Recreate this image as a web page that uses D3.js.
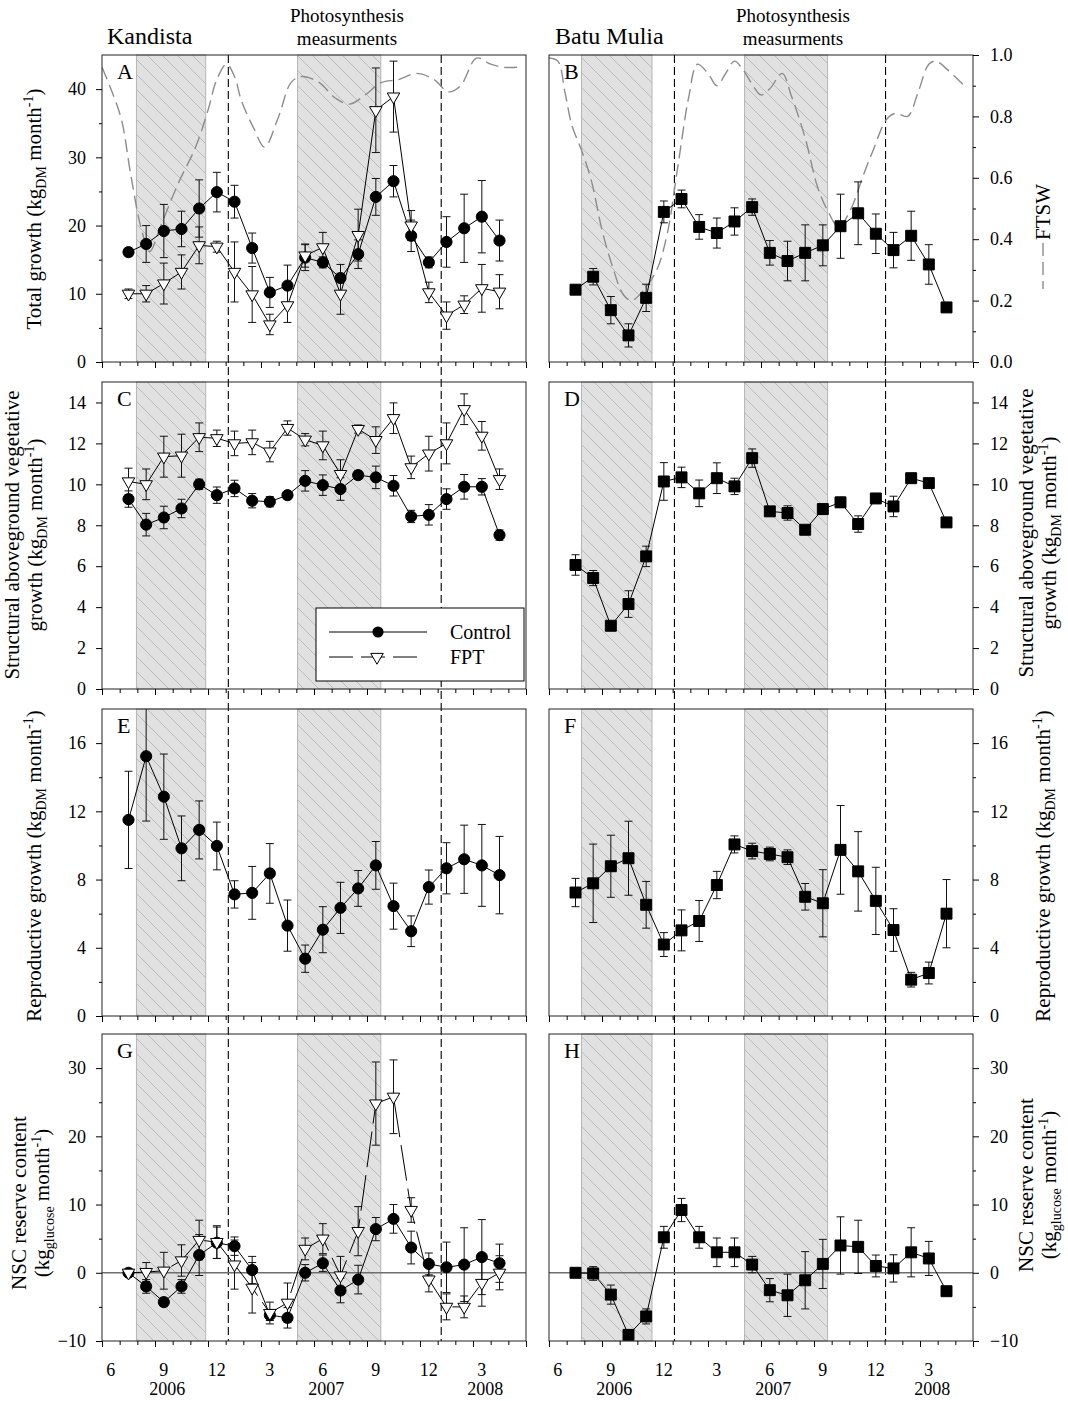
<!DOCTYPE html>
<html>
<head>
<meta charset="utf-8">
<script src="https://cdn.jsdelivr.net/npm/d3@7"></script>
<style>
  body { margin: 0; background: #fff; }
  text { font-family: "Liberation Serif", "Times New Roman", serif; fill: #000; }
</style>
</head>
<body>
<div id="chart"></div>
<script>
// Data
var sampleMonths = ["2006-07","2006-08","2006-09","2006-10","2006-11","2006-12",
    "2007-01","2007-02","2007-03","2007-04","2007-05","2007-06","2007-07","2007-08",
    "2007-09","2007-10","2007-11","2007-12","2008-01","2008-02","2008-03","2008-04"];

var monthTickLabels = ["6","9","12","3","6","9","12","3"];
var yearLabels = ["2006","2007","2008"];

// Kandista (Control / FPT)
var ctrlTotal    = [16.1, 17.3, 19.2, 19.5, 22.5, 24.9, 23.5, 16.7, 10.2, 11.2, 15.3, 14.6, 12.3, 15.8, 24.2, 26.5, 18.5, 14.6, 17.6, 19.6, 21.3, 17.8];
var ctrlTotalErr = [0.6, 2.7, 3.9, 2.6, 4.2, 2.9, 2.4, 2.2, 2.2, 3.0, 1.9, 0.8, 2.0, 2.1, 2.7, 2.3, 2.3, 0.8, 3.7, 5.0, 5.3, 3.0];
var fptTotal     = [10.0, 10.0, 11.5, 13.2, 17.1, 16.9, 13.2, 9.9, 5.5, 8.3, 15.6, 16.8, 10.0, 18.6, 36.9, 38.9, 20.0, 10.2, 6.8, 8.4, 10.8, 10.3];
var fptTotalErr  = [0.7, 1.2, 3.0, 2.5, 2.7, 0.8, 4.4, 4.1, 1.5, 2.5, 1.7, 2.2, 3.0, 3.8, 6.2, 5.2, 2.2, 1.5, 2.0, 1.3, 3.5, 2.5];

var ctrlStruct    = [9.28, 8.03, 8.38, 8.82, 10.0, 9.47, 9.8, 9.2, 9.15, 9.47, 10.17, 9.96, 9.77, 10.45, 10.34, 9.93, 8.43, 8.51, 9.28, 9.88, 9.88, 7.52];
var ctrlStructErr = [0.4, 0.55, 0.55, 0.45, 0.25, 0.4, 0.4, 0.35, 0.25, 0.1, 0.5, 0.5, 0.55, 0.2, 0.55, 0.5, 0.3, 0.5, 0.5, 0.6, 0.4, 0.25];
var fptStruct     = [10.14, 10.0, 11.35, 11.4, 12.3, 12.25, 12.0, 12.05, 11.6, 12.75, 12.18, 11.9, 10.5, 12.7, 12.16, 13.23, 10.83, 11.5, 12.0, 13.67, 12.37, 10.25];
var fptStructErr  = [0.65, 0.75, 1.0, 1.05, 0.7, 0.4, 0.6, 0.6, 0.5, 0.35, 0.3, 0.7, 0.7, 0.2, 0.65, 0.75, 0.55, 0.85, 1.0, 0.75, 0.7, 0.5];

var ctrlRepro    = [11.5, 15.23, 12.86, 9.83, 10.91, 9.97, 7.13, 7.22, 8.36, 5.3, 3.36, 5.06, 6.34, 7.48, 8.83, 6.44, 4.97, 7.56, 8.66, 9.19, 8.83, 8.26];
var ctrlReproErr = [2.85, 3.8, 2.5, 1.9, 1.7, 1.4, 0.8, 1.55, 1.75, 1.5, 0.8, 1.35, 1.5, 1.05, 1.4, 1.35, 0.9, 1.0, 1.5, 2.0, 2.4, 2.27];

var ctrlNsc    = [0, -2.0, -4.3, -2.0, 2.6, 4.4, 3.9, 0.4, -6.2, -6.6, 0, 1.4, -2.6, -1.0, 6.4, 7.9, 3.7, 1.3, 0.8, 1.2, 2.3, 1.4];
var ctrlNscErr = [0, 1.0, 0.6, 1.0, 3.0, 2.3, 1.35, 2.0, 0.8, 1.5, 1.2, 1.2, 1.8, 2.1, 1.7, 2.1, 2.4, 1.6, 3.7, 5.4, 5.5, 2.8];
var fptNsc     = [0, 0.1, 0.3, 1.8, 4.8, 4.5, 1.2, -2.2, -5.9, -4.4, 3.5, 5.0, -0.4, 6.1, 24.8, 25.8, 9.2, -1.0, -5.0, -5.0, -1.5, 0];
var fptNscErr  = [0, 1.4, 2.7, 2.3, 2.9, 2.4, 3.6, 3.7, 1.6, 2.9, 1.6, 2.2, 2.8, 3.6, 6.1, 5.4, 1.8, 1.8, 1.9, 1.6, 3.4, 2.5];

// Batu Mulia
var bmTotal     = [10.6, 12.5, 7.6, 3.9, 9.4, 22.0, 23.9, 19.8, 18.9, 20.6, 22.7, 16.0, 14.8, 16.0, 17.1, 19.9, 21.8, 18.8, 16.4, 18.5, 14.3, 8.0];
var bmTotalErr  = [0, 1.2, 2.0, 1.7, 2.0, 1.6, 1.3, 1.8, 2.2, 2.0, 1.2, 1.8, 2.9, 4.1, 3.0, 4.7, 4.6, 2.9, 2.6, 3.6, 2.9, 0];
var bmStruct    = [6.06, 5.42, 3.09, 4.15, 6.48, 10.14, 10.34, 9.56, 10.3, 9.9, 11.28, 8.68, 8.6, 7.78, 8.79, 9.12, 8.06, 9.31, 8.92, 10.3, 10.06, 8.14];
var bmStructErr = [0.5, 0.37, 0, 0.65, 0.5, 0.92, 0.5, 0.65, 0.75, 0.4, 0.45, 0, 0.35, 0, 0.25, 0.25, 0.4, 0, 0.5, 0, 0, 0.2];
var bmRepro     = [7.24, 7.78, 8.78, 9.25, 6.52, 4.19, 5.02, 5.57, 7.68, 10.06, 9.67, 9.5, 9.31, 6.99, 6.61, 9.74, 8.48, 6.75, 5.04, 2.13, 2.52, 6.0];
var bmReproErr  = [0.83, 2.3, 1.82, 2.17, 1.37, 0.7, 1.2, 1.2, 0.8, 0.5, 0.46, 0.4, 0.43, 0.78, 1.97, 2.6, 2.33, 1.97, 1.25, 0.43, 0.64, 2.0];
var bmNsc       = [0, -0.1, -3.2, -9.1, -6.4, 5.2, 9.2, 5.2, 3.0, 3.0, 1.2, -2.55, -3.3, -1.1, 1.3, 4.0, 3.8, 1.0, 0.64, 3.0, 2.1, -2.7];
var bmNscErr    = [0, 1.0, 1.4, 0.7, 1.1, 1.6, 1.7, 1.6, 2.1, 2.1, 1.2, 1.7, 3.1, 4.2, 3.6, 4.2, 3.9, 1.6, 2.0, 3.6, 2.5, 0];

// FTSW (months since 1 June 2006)
var ftswKandistaMonth = [0, 0.5, 1.1, 1.6, 2.2, 2.7, 3.3, 4.3, 5.3, 6.0, 6.5, 7.05, 7.5, 7.9, 8.6, 9.2, 10.0, 10.7, 11.3, 12.3, 13.2, 14.0, 14.9, 15.8, 16.8, 17.8, 18.8, 19.6, 20.3, 21.2, 22.0, 22.7, 23.5];
var ftswKandista      = [0.96, 0.89, 0.79, 0.62, 0.44, 0.36, 0.44, 0.58, 0.70, 0.82, 0.92, 0.97, 0.93, 0.85, 0.76, 0.70, 0.80, 0.91, 0.93, 0.91, 0.86, 0.84, 0.87, 0.91, 0.92, 0.94, 0.92, 0.88, 0.90, 0.99, 0.97, 0.96, 0.96];
var ftswBatuMonth = [0, 0.5, 0.9, 1.3, 1.84, 2.4, 3.0, 3.6, 4.2, 4.66, 5.3, 6.1, 6.7, 7.3, 7.9, 8.4, 9.0, 9.5, 10.0, 10.5, 11.0, 11.55, 12.0, 12.5, 13.2, 13.7, 14.5, 15.2, 15.8, 16.4, 17.1, 17.8, 18.35, 19.1, 19.6, 20.3, 20.9, 21.5, 21.9, 22.6, 23.5];
var ftswBatu      = [0.99, 0.98, 0.88, 0.77, 0.69, 0.59, 0.43, 0.31, 0.22, 0.20, 0.23, 0.30, 0.42, 0.64, 0.86, 0.97, 0.94, 0.90, 0.94, 0.98, 0.95, 0.90, 0.87, 0.89, 0.94, 0.87, 0.73, 0.57, 0.49, 0.44, 0.50, 0.61, 0.69, 0.79, 0.81, 0.80, 0.88, 0.97, 0.98, 0.95, 0.90];

// dry seasons and photosynthesis campaigns (months since 1 June 2006)
var dryKandista = [[1.95, 5.87], [11.07, 15.78]];
var dryBatu     = [[1.84, 5.83], [11.07, 15.77]];
var photoKandista = [7.15, 19.2];
var photoBatu     = [7.1, 19.05];

// Layout
var svgWidth = 1068, svgHeight = 1401;
var colX = [102, 549];
var rowY = [55, 382, 709, 1034];
var panelW = 424, panelH = 307;

function monthIndex(s) {
    var p = s.split("-");
    return (+p[0] - 2006) * 12 + (+p[1] - 6) + 0.5;
}
var sampleX = sampleMonths.map(monthIndex);

function toPoints(v, e) {
    return v.map(function(d, i) { return {m: sampleX[i], v: d, e: e[i]}; });
}

var panels = [
    {col:0, row:0, letter:"A", domain:[0,45], major:[0,10,20,30,40], minor:[5,15,25,35],
     series:[{pts:toPoints(ctrlTotal, ctrlTotalErr), mark:"circle"},
             {pts:toPoints(fptTotal, fptTotalErr), mark:"tri"}],
     ftsw:{m:ftswKandistaMonth, v:ftswKandista}},
    {col:1, row:0, letter:"B", domain:[0,45], ftswAxis:true,
     series:[{pts:toPoints(bmTotal, bmTotalErr), mark:"square"}],
     ftsw:{m:ftswBatuMonth, v:ftswBatu}},
    {col:0, row:1, letter:"C", domain:[0,15], major:[0,2,4,6,8,10,12,14], minor:[],
     series:[{pts:toPoints(ctrlStruct, ctrlStructErr), mark:"circle"},
             {pts:toPoints(fptStruct, fptStructErr), mark:"tri"}], legend:true},
    {col:1, row:1, letter:"D", domain:[0,15], major:[0,2,4,6,8,10,12,14], minor:[],
     series:[{pts:toPoints(bmStruct, bmStructErr), mark:"square"}]},
    {col:0, row:2, letter:"E", domain:[0,18], major:[0,4,8,12,16], minor:[2,6,10,14],
     series:[{pts:toPoints(ctrlRepro, ctrlReproErr), mark:"circle"}]},
    {col:1, row:2, letter:"F", domain:[0,18], major:[0,4,8,12,16], minor:[2,6,10,14],
     series:[{pts:toPoints(bmRepro, bmReproErr), mark:"square"}]},
    {col:0, row:3, letter:"G", domain:[-10,35], major:[-10,0,10,20,30], minor:[-5,5,15,25], zero:true, xLabels:true,
     series:[{pts:toPoints(ctrlNsc, ctrlNscErr), mark:"circle"},
             {pts:toPoints(fptNsc, fptNscErr), mark:"tri", dash:"36,8"}]},
    {col:1, row:3, letter:"H", domain:[-10,35], major:[-10,0,10,20,30], minor:[-5,5,15,25], zero:true, xLabels:true,
     series:[{pts:toPoints(bmNsc, bmNscErr), mark:"square"}]}
];

var svg = d3.select("#chart").append("svg")
    .attr("width", svgWidth)
    .attr("height", svgHeight);

var defs = svg.append("defs");
var hatch = defs.append("pattern")
    .attr("id", "hatch")
    .attr("patternUnits", "userSpaceOnUse")
    .attr("width", 15).attr("height", 15);
hatch.append("rect").attr("width", 15).attr("height", 15).attr("fill", "#e1e1e1");
hatch.append("path")
    .attr("d", "M0,0L15,15M-1,14L1,16M14,-1L16,1")
    .attr("stroke", "#a9a9a9").attr("stroke-width", 0.7);

var backLayer  = svg.append("g");
var lineLayer  = svg.append("g");
var frontLayer = svg.append("g");

var xScale = d3.scaleLinear().domain([0, 24]).range([0, panelW]);

// long dashed lines marking photosynthesis campaigns
[photoKandista, photoBatu].forEach(function(arr, c) {
    arr.forEach(function(m) {
        lineLayer.append("line")
            .attr("x1", colX[c] + xScale(m)).attr("x2", colX[c] + xScale(m))
            .attr("y1", rowY[0]).attr("y2", rowY[3] + panelH)
            .attr("stroke", "#000").attr("stroke-width", 1.1)
            .attr("stroke-dasharray", "8,4");
    });
});

function symbolPath(mark) {
    if (mark == "circle") return d3.symbol().type(d3.symbolCircle).size(98)();
    if (mark == "square") return d3.symbol().type(d3.symbolSquare).size(120)();
    return d3.symbol().type(d3.symbolTriangle).size(68)();
}

function styleAxis(g) {
    g.select(".domain").remove();
    g.selectAll("line").attr("stroke", "#000");
    g.selectAll("text").style("font-family", "'Liberation Serif', serif").style("font-size", "18px").attr("fill", "#000");
}

panels.forEach(function(p, pi) {
    var ox = colX[p.col], oy = rowY[p.row];
    var y = d3.scaleLinear().domain(p.domain).range([panelH, 0]);
    var yf = d3.scaleLinear().domain([0, 1]).range([panelH, 0]);
    var dry = p.col == 0 ? dryKandista : dryBatu;

    var back = backLayer.append("g").attr("transform", "translate(" + ox + "," + oy + ")");
    back.selectAll(".dry").data(dry).enter().append("rect")
        .attr("x", function(d) { return xScale(d[0]); })
        .attr("width", function(d) { return xScale(d[1]) - xScale(d[0]); })
        .attr("y", 0).attr("height", panelH)
        .attr("fill", "url(#hatch)")
        .attr("stroke", "#b5b5b5").attr("stroke-width", 1);

    var g = frontLayer.append("g").attr("transform", "translate(" + ox + "," + oy + ")");

    var clipId = "clip" + pi;
    defs.append("clipPath").attr("id", clipId)
        .append("rect").attr("width", panelW).attr("height", panelH);
    var plot = g.append("g").attr("clip-path", "url(#" + clipId + ")");

    if (p.zero) {
        plot.append("line")
            .attr("x1", 0).attr("x2", panelW)
            .attr("y1", y(0)).attr("y2", y(0))
            .attr("stroke", "#6e6e6e").attr("stroke-width", 1.6);
    }

    if (p.ftsw) {
        var fdata = p.ftsw.m.map(function(m, i) { return [m, p.ftsw.v[i]]; });
        plot.append("path")
            .attr("d", d3.line()
                .x(function(d) { return xScale(d[0]); })
                .y(function(d) { return yf(d[1]); })
                .curve(d3.curveCatmullRom.alpha(0.5))(fdata))
            .attr("fill", "none")
            .attr("stroke", "#8c8c8c")
            .attr("stroke-width", 1.4)
            .attr("stroke-dasharray", "13,6");
    }

    // error bars
    p.series.forEach(function(s) {
        var eb = plot.append("g").attr("stroke", "#111").attr("stroke-width", 1);
        s.pts.filter(function(d) { return d.e > 0; }).forEach(function(d) {
            var cx = xScale(d.m);
            eb.append("line").attr("x1", cx).attr("x2", cx)
                .attr("y1", y(d.v + d.e)).attr("y2", y(d.v - d.e));
            eb.append("line").attr("x1", cx - 4).attr("x2", cx + 4)
                .attr("y1", y(d.v + d.e)).attr("y2", y(d.v + d.e));
            eb.append("line").attr("x1", cx - 4).attr("x2", cx + 4)
                .attr("y1", y(d.v - d.e)).attr("y2", y(d.v - d.e));
        });
    });

    // lines
    p.series.forEach(function(s) {
        plot.append("path")
            .attr("d", d3.line()
                .x(function(d) { return xScale(d.m); })
                .y(function(d) { return y(d.v); })(s.pts))
            .attr("fill", "none")
            .attr("stroke", "#000")
            .attr("stroke-width", 1)
            .attr("stroke-dasharray", s.dash || null);
    });

    // markers
    p.series.forEach(function(s) {
        plot.selectAll(null).data(s.pts).enter().append("path")
            .attr("d", symbolPath(s.mark))
            .attr("transform", function(d) {
                return "translate(" + xScale(d.m) + "," + y(d.v) + ")" + (s.mark == "tri" ? " rotate(180)" : "");
            })
            .attr("fill", s.mark == "tri" ? "#fff" : "#000")
            .attr("stroke", "#000")
            .attr("stroke-width", 1);
    });

    // frame
    g.append("rect").attr("width", panelW).attr("height", panelH)
        .attr("fill", "none").attr("stroke", "#222").attr("stroke-width", 1);

    // x axis ticks
    g.append("g").attr("transform", "translate(0," + panelH + ")")
        .call(d3.axisBottom(xScale).tickValues(d3.range(0, 25)).tickSize(4).tickFormat(""))
        .call(styleAxis);
    g.append("g").attr("transform", "translate(0," + panelH + ")")
        .call(d3.axisBottom(xScale).tickValues(d3.range(0, 25, 3)).tickSize(6).tickFormat(""))
        .call(styleAxis);

    if (p.xLabels) {
        g.selectAll(null).data(monthTickLabels).enter().append("text")
            .attr("x", function(d, i) { return xScale(i * 3 + 0.5); })
            .attr("y", panelH + 35)
            .attr("text-anchor", "middle")
            .style("font-size", "18px")
            .text(function(d) { return d; });
        g.selectAll(null).data(yearLabels).enter().append("text")
            .attr("x", function(d, i) { return xScale(i * 9 + 3.7); })
            .attr("y", panelH + 54)
            .attr("text-anchor", "middle")
            .style("font-size", "18px")
            .text(function(d) { return d; });
    }

    // y axis
    if (p.ftswAxis) {
        g.append("g").attr("transform", "translate(" + panelW + ",0)")
            .call(d3.axisRight(yf).tickValues([0.1,0.3,0.5,0.7,0.9]).tickSize(3).tickFormat(""))
            .call(styleAxis);
        g.append("g").attr("transform", "translate(" + panelW + ",0)")
            .call(d3.axisRight(yf).tickValues([0,0.2,0.4,0.6,0.8,1.0]).tickSize(6).tickPadding(11).tickFormat(d3.format(".1f")))
            .call(styleAxis);
    } else if (p.col == 0) {
        g.append("g")
            .call(d3.axisLeft(y).tickValues(p.minor).tickSize(3).tickFormat(""))
            .call(styleAxis);
        g.append("g")
            .call(d3.axisLeft(y).tickValues(p.major).tickSize(6).tickPadding(10))
            .call(styleAxis);
    } else {
        g.append("g").attr("transform", "translate(" + panelW + ",0)")
            .call(d3.axisRight(y).tickValues(p.minor).tickSize(3).tickFormat(""))
            .call(styleAxis);
        g.append("g").attr("transform", "translate(" + panelW + ",0)")
            .call(d3.axisRight(y).tickValues(p.major).tickSize(6).tickPadding(11))
            .call(styleAxis);
    }

    g.append("text").attr("x", 15).attr("y", 24)
        .style("font-size", "22px").text(p.letter);

    if (p.legend) {
        var lg = g.append("g").attr("transform", "translate(" + (316 - ox) + "," + (608 - oy) + ")");
        lg.append("rect").attr("width", 208).attr("height", 73)
            .attr("fill", "#fff").attr("stroke", "#000").attr("stroke-width", 1);
        lg.append("line").attr("x1", 13).attr("x2", 111).attr("y1", 24).attr("y2", 24)
            .attr("stroke", "#000");
        lg.append("path").attr("d", symbolPath("circle"))
            .attr("transform", "translate(62,24)").attr("fill", "#000");
        lg.append("line").attr("x1", 13).attr("x2", 102).attr("y1", 49).attr("y2", 49)
            .attr("stroke", "#000").attr("stroke-dasharray", "24,8");
        lg.append("path").attr("d", symbolPath("tri"))
            .attr("transform", "translate(61,49) rotate(180)")
            .attr("fill", "#fff").attr("stroke", "#000");
        lg.append("text").attr("x", 134).attr("y", 31).style("font-size", "20px").text("Control");
        lg.append("text").attr("x", 134).attr("y", 56).style("font-size", "20px").text("FPT");
    }
});

// Axis titles with sub/superscripts
function axisTitle(x, cy, lines) {
    var t = svg.append("text")
        .attr("transform", "translate(" + x + "," + cy + ") rotate(-90)")
        .attr("text-anchor", "middle")
        .style("font-size", "21px");
    lines.forEach(function(parts, li) {
        var cur = 0;
        parts.forEach(function(part, pi) {
            var target = part[1] == "sub" ? 5 : (part[1] == "sup" ? -8 : 0);
            var ts = t.append("tspan").text(part[0])
                .attr("dy", target - cur)
                .style("font-size", part[1] == "n" ? "21px" : "14px");
            if (pi == 0) ts.attr("x", 0).attr("dy", li * 23 + (li > 0 ? -cur0(lines[li - 1]) : 0));
            cur = target;
        });
    });
    return t;
}
function cur0(parts) {
    var last = parts[parts.length - 1][1];
    return last == "sub" ? 5 : (last == "sup" ? -8 : 0);
}

var growthUnit = [["(kg", "n"], ["DM", "sub"], [" month", "n"], ["-1", "sup"], [")", "n"]];
var glucoseUnit = [["(kg", "n"], ["glucose", "sub"], [" month", "n"], ["-1", "sup"], [")", "n"]];

axisTitle(41, 209, [[["Total growth ", "n"]].concat(growthUnit)]);
axisTitle(19, 535, [[["Structural aboveground vegetative", "n"]], [["growth ", "n"]].concat(growthUnit)]);
axisTitle(41, 866, [[["Reproductive growth ", "n"]].concat(growthUnit)]);
axisTitle(26, 1203, [[["NSC reserve content", "n"]], glucoseUnit]);

axisTitle(1033, 533, [[["Structural aboveground vegetative", "n"]], [["growth ", "n"]].concat(growthUnit)]);
axisTitle(1050, 866, [[["Reproductive growth ", "n"]].concat(growthUnit)]);
axisTitle(1033, 1185, [[["NSC reserve content", "n"]], glucoseUnit]);

// FTSW title with dashed key
axisTitle(1050, 212, [[["FTSW", "n"]]]);
svg.append("line").attr("x1", 1043).attr("x2", 1043).attr("y1", 243).attr("y2", 289)
    .attr("stroke", "#8c8c8c").attr("stroke-width", 1.4).attr("stroke-dasharray", "13,6");

// Site names and campaign labels
svg.append("text").attr("x", 107).attr("y", 44).style("font-size", "24px").text("Kandista");
svg.append("text").attr("x", 555).attr("y", 44).style("font-size", "24px").text("Batu Mulia");
[[347, 0], [793, 1]].forEach(function(d) {
    svg.append("text").attr("x", d[0]).attr("y", 22).attr("text-anchor", "middle")
        .style("font-size", "19px").text("Photosynthesis");
    svg.append("text").attr("x", d[0]).attr("y", 45).attr("text-anchor", "middle")
        .style("font-size", "19px").text("measurments");
});
</script>
</body>
</html>
